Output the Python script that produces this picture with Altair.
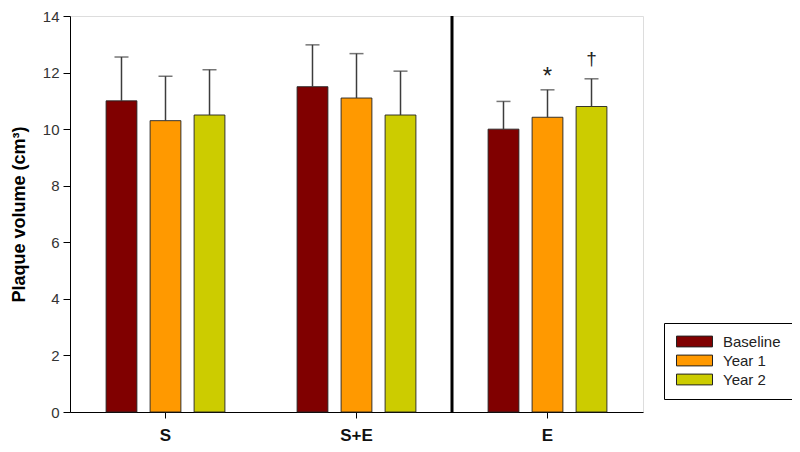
import altair as alt
import pandas as pd

groups = ["S", "S+E", "E"]
series = ["Baseline", "Year 1", "Year 2"]
means = [[11.0, 10.3, 10.5], [11.5, 11.1, 10.5], [10.0, 10.42, 10.8]]
errors = [[1.55, 1.57, 1.6], [1.48, 1.57, 1.55], [0.98, 0.97, 0.98]]
notes = [["", "", ""], ["", "", ""], ["", "*", "\u2020"]]
colors = ["#800000", "#FF9900", "#CCCC00"]
y_ticks = [0, 2, 4, 6, 8, 10, 12, 14]

rows = []
for gi, g in enumerate(groups):
    for si, s in enumerate(series):
        m = means[gi][si]
        e = errors[gi][si]
        rows.append({"group": g, "series": s, "mean": m, "upper": m + e, "note": notes[gi][si]})
df = pd.DataFrame(rows)

FONT = "Liberation Sans"
H = 396

x_enc = alt.X("group:N", sort=groups, scale=alt.Scale(paddingInner=0, paddingOuter=0),
              axis=alt.Axis(title=None, labelAngle=0, labelFontWeight="bold", labelFontSize=17,
                            labelColor="#111", tickSize=6, tickColor="#000", domainColor="#000",
                            labelPadding=9, labelFont=FONT))
xo_enc = alt.XOffset("series:N", sort=series, scale=alt.Scale(paddingInner=0.3, paddingOuter=0.82))
y_scale = alt.Scale(domain=[0, 14], nice=False)

bars = alt.Chart(df).mark_bar(stroke="#222", strokeWidth=0.9).encode(
    x=x_enc,
    xOffset=xo_enc,
    y=alt.Y("mean:Q", scale=y_scale,
            axis=alt.Axis(values=y_ticks, grid=False, title="Plaque volume (cm\u00b3)",
                          titleFontSize=18, titleFontWeight="bold", titleColor="#000",
                          titleFont=FONT, titleX=-51, titleY=H / 2, titleAngle=270,
                          titleAlign="center", titleBaseline="middle",
                          labelFontSize=15, labelColor="#333", labelFont=FONT,
                          tickSize=7, tickColor="#000", domainColor="#000", labelPadding=4)),
    color=alt.Color("series:N", sort=series, scale=alt.Scale(domain=series, range=colors),
                    legend=alt.Legend(title=None, orient="none", legendX=594, legendY=307,
                                      strokeColor="#000", fillColor="white", padding=11,
                                      symbolType="M-3,-0.9L3,-0.9L3,0.9L-3,0.9Z", symbolSize=144,
                                      symbolOffset=12,
                                      symbolStrokeColor="#222", symbolStrokeWidth=1,
                                      labelFontSize=15, labelColor="#222", labelFont=FONT,
                                      labelOffset=21, rowPadding=3)),
)

err = alt.Chart(df).mark_rule(color="#3c3c3c", strokeWidth=1.5).encode(
    x=alt.X("group:N", sort=groups),
    xOffset=alt.XOffset("series:N", sort=series),
    y=alt.Y("mean:Q", scale=y_scale),
    y2="upper:Q",
)

caps = alt.Chart(df).mark_tick(color="#3c3c3c", thickness=1.5, size=14, orient="horizontal").encode(
    x=alt.X("group:N", sort=groups),
    xOffset=alt.XOffset("series:N", sort=series),
    y=alt.Y("upper:Q", scale=y_scale),
)

star = alt.Chart(df).transform_filter(alt.datum.note == "*").mark_text(
    fontSize=24, font=FONT, color="#222", baseline="bottom", dy=-1).encode(
    x=alt.X("group:N", sort=groups),
    xOffset=alt.XOffset("series:N", sort=series),
    y=alt.Y("upper:Q", scale=y_scale),
    text="note:N",
)

dagger = alt.Chart(df).transform_filter(alt.datum.note == "\u2020").mark_text(
    fontSize=19, font=FONT, color="#222", baseline="bottom", dy=-10).encode(
    x=alt.X("group:N", sort=groups),
    xOffset=alt.XOffset("series:N", sort=series),
    y=alt.Y("upper:Q", scale=y_scale),
    text="note:N",
)

sep = alt.Chart(pd.DataFrame({"group": [groups[2]]})).mark_rule(color="#000", strokeWidth=3).encode(
    x=alt.X("group:N", sort=groups, bandPosition=0),
)

chart = alt.layer(bars, err, caps, star, dagger, sep).properties(
    width=573, height=H,
    autosize=alt.AutoSizeParams(type="none"),
    padding={"left": 62, "top": 8, "right": 149, "bottom": 32},
).configure_view(stroke="#555", strokeWidth=1).configure(background="white")

chart.save("out.html", embed_options={"renderer": "svg", "actions": False})
